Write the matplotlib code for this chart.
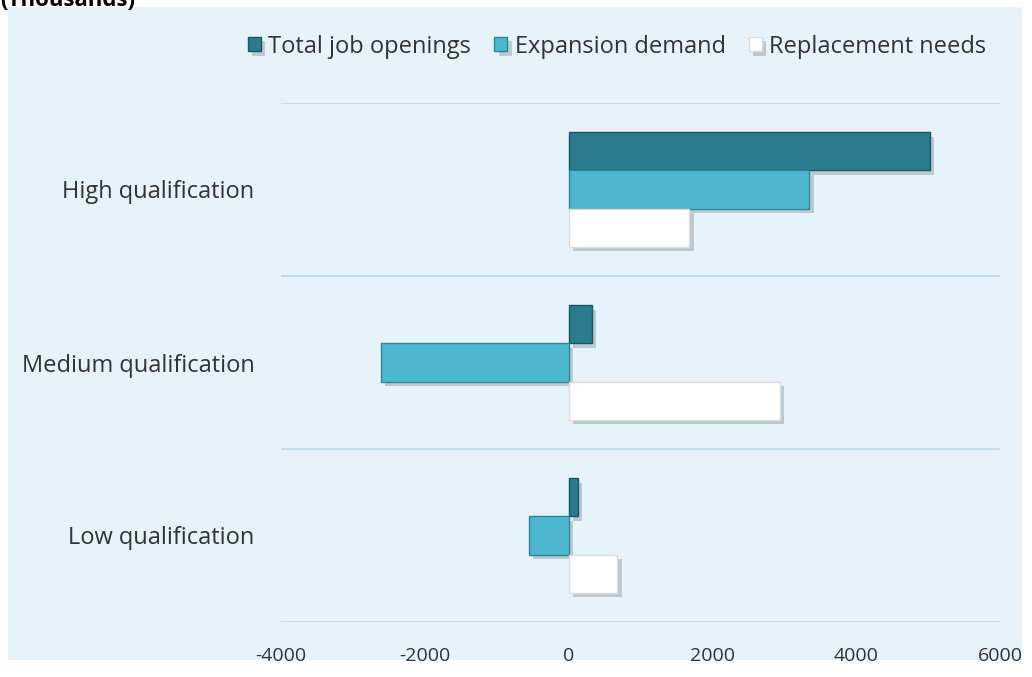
import numpy as np
import matplotlib.pyplot as plt
import matplotlib.patheffects as pe
from matplotlib.patches import Rectangle

plt.rcParams['font.family'] = ['Open Sans', 'DejaVu Sans']

# data (thousands)
categories = ['Low qualification', 'Medium qualification', 'High qualification']
total = [125, 320, 5030]
expansion = [-556, -2615, 3350]
replacement = [680, 2935, 1680]
x_ticks = [-4000, -2000, 0, 2000, 4000, 6000]

bg = '#e6f3fa'
fig = plt.figure(figsize=(10.32, 6.77), dpi=100, facecolor='white')
fig.patches.append(Rectangle((8/1032, 17/677), 1014/1032, 653/677,
                             transform=fig.transFigure, facecolor=bg,
                             edgecolor='none', zorder=-10))
fig.text(0.0, 1 - 1/677, '(Thousands)', fontsize=16, fontweight='bold',
         va='center', ha='left', color='black')

ax = fig.add_axes([281/1032, 55/677, 719/1032, 519/677])
ax.set_facecolor('none')
ax.set_zorder(1)

y = np.arange(len(categories))
h = 0.22
shadow = [pe.SimplePatchShadow(offset=(3, -3), shadow_rgbFace='#7f8c93', alpha=0.4), pe.Normal()]

b1 = ax.barh(y + h, total, height=h, color='#2b7b8e', edgecolor='#1c5563',
             linewidth=1, label='Total job openings', zorder=3)
b2 = ax.barh(y, expansion, height=h, color='#4cb7cf', edgecolor='#2f8597',
             linewidth=1, label='Expansion demand', zorder=3)
b3 = ax.barh(y - h, replacement, height=h, color='white', edgecolor='#dcdcdc',
             linewidth=1, label='Replacement needs', zorder=3)
for bars in (b1, b2, b3):
    for r in bars:
        r.set_path_effects(shadow)

for yy in [-0.5, 0.5, 1.5, 2.5]:
    ax.axhline(yy, color='#b5dbe8', linewidth=1.2, zorder=1)

ax.set_xlim(-4000, 6000)
ax.set_ylim(-0.5, 2.5)
ax.set_xticks(x_ticks)
ax.set_xticklabels([str(t) for t in x_ticks], fontsize=14, color='#333333')
ax.set_yticks(y)
ax.set_yticklabels(categories, fontsize=17, color='#333333')
ax.tick_params(length=0)
ax.tick_params(axis='x', pad=18)
ax.tick_params(axis='y', pad=19)
for s in ax.spines.values():
    s.set_visible(False)

fig.legend(handles=[b1, b2, b3], loc='center', bbox_to_anchor=(0.598, 0.931),
           ncol=3, frameon=False, fontsize=17, handlelength=0.55, handleheight=0.55,
           handletextpad=0.3, columnspacing=1.0, labelcolor='#333333')

plt.savefig('out.png', dpi=100, facecolor='white')
